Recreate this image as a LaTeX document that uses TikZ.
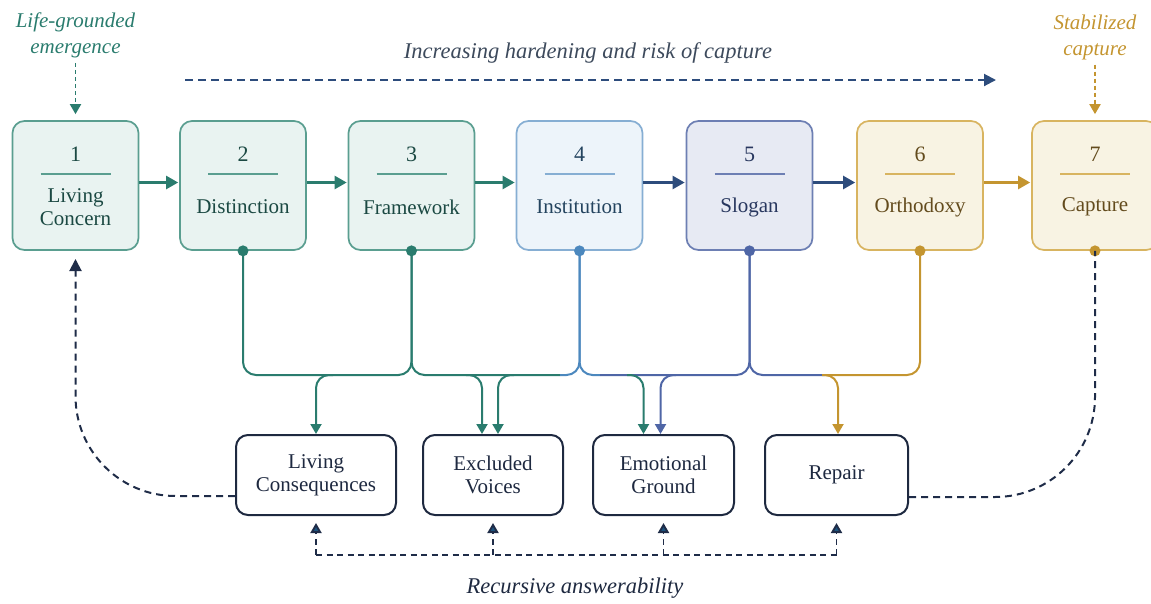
\documentclass[tikz,border=0pt]{standalone}
\usepackage{fontspec}
\setmainfont{Liberation Serif}
\usetikzlibrary{arrows.meta,positioning}

% --- colours ---
\definecolor{tealfill}{HTML}{E9F3F1}
\definecolor{tealedge}{HTML}{5A9E90}
\definecolor{tealtext}{HTML}{1B4943}
\definecolor{tealwire}{HTML}{2A7C6E}
\definecolor{skyfill}{HTML}{EDF4FA}
\definecolor{skyedge}{HTML}{86AED3}
\definecolor{skytext}{HTML}{24445F}
\definecolor{skywire}{HTML}{4C88BE}
\definecolor{slatefill}{HTML}{E7EAF3}
\definecolor{slateedge}{HTML}{6D7FB3}
\definecolor{slatetext}{HTML}{28375E}
\definecolor{slatewire}{HTML}{4F66A6}
\definecolor{goldfill}{HTML}{F8F3E3}
\definecolor{goldedge}{HTML}{D8B460}
\definecolor{goldtext}{HTML}{634B1D}
\definecolor{goldwire}{HTML}{C49530}
\definecolor{navyflow}{HTML}{2D4C7C}
\definecolor{inkbox}{HTML}{1E2940}
\definecolor{loopink}{HTML}{1F2C48}
\definecolor{tipblue}{HTML}{1C5480}
\definecolor{hardtext}{HTML}{3D4A5C}

\tikzset{
  stagebox/.style={draw, rounded corners=12pt, line width=1.7pt,
    minimum width=126pt, minimum height=129pt, inner sep=0pt},
  tealstage/.style={stagebox, draw=tealedge, fill=tealfill},
  skystage/.style={stagebox, draw=skyedge, fill=skyfill},
  slatestage/.style={stagebox, draw=slateedge, fill=slatefill},
  goldstage/.style={stagebox, draw=goldedge, fill=goldfill},
  numtxt/.style={font=\fontsize{22}{24}\selectfont, inner sep=0pt},
  labtxt/.style={font=\fontsize{21}{23}\selectfont, align=center, inner sep=0pt},
  steprule/.style={line width=1.5pt},
  outbox/.style={draw=inkbox, line width=2pt, rounded corners=12pt, fill=white,
    minimum height=80pt, inner sep=0pt, align=center, text=inkbox,
    font=\fontsize{21}{23}\selectfont},
  sidetxt/.style={font=\fontsize{21}{26}\selectfont\itshape, align=center, inner sep=1pt},
  midtxt/.style={font=\fontsize{22.5}{26}\selectfont\itshape, inner sep=0pt},
  flow/.style={line width=2.4pt, -{Triangle[length=12pt,width=13pt]}, shorten >=1pt},
  wire/.style={line width=2pt, rounded corners=13pt},
  drop/.style={wire, -{Triangle[length=10pt,width=11pt]}},
  loopdash/.style={draw=loopink, line width=2pt, dash pattern=on 7pt off 5pt,
    rounded corners=100pt},
  feeddash/.style={draw=loopink, line width=1.9pt, dash pattern=on 6pt off 4.5pt},
  uptip/.style={-{Triangle[length=10pt,width=11pt,fill=tipblue]}, shorten >=7pt},
  topdash/.style={line width=1.9pt, dash pattern=on 4pt off 3pt,
    -{Triangle[length=10pt,width=11pt]}, shorten >=6pt, shorten <=4pt},
}

\begin{document}
\begin{tikzpicture}[x=1pt,y=-1pt]
  \useasboundingbox (0,0) rectangle (1151,603);
  % --- Parameters ---
  \def\ybox{185.5}    % centre of the stage row
  \def\ynum{154}      % stage numbers
  \def\yrule{174}     % rule under the numbers
  \def\ylab{207}      % stage labels
  \def\ybus{375}      % level of the collecting lines
  \def\yout{475}      % centre of the lower row
  \def\yrec{555}      % recursive feedback line
  \def\xA{75.5}
  \def\xB{243}
  \def\xC{411.5}
  \def\xD{579.5}
  \def\xE{749.5}
  \def\xF{920}
  \def\xG{1095}

  % --- Stage row ---
  \node[tealstage] (s1) at (\xA,\ybox) {};
  \node[numtxt, text=tealtext] (n1) at (\xA,\ynum) {1};
  \draw[steprule, tealedge] ({\xA-35},\yrule) -- ({\xA+35},\yrule);
  \node[labtxt, text=tealtext] (l1) at (\xA,{\ylab}) {Living\\Concern};

  \node[tealstage] (s2) at (\xB,\ybox) {};
  \node[numtxt, text=tealtext] (n2) at (\xB,\ynum) {2};
  \draw[steprule, tealedge] ({\xB-35},\yrule) -- ({\xB+35},\yrule);
  \node[labtxt, text=tealtext] (l2) at (\xB,\ylab) {Distinction};

  \node[tealstage] (s3) at (\xC,\ybox) {};
  \node[numtxt, text=tealtext] (n3) at (\xC,\ynum) {3};
  \draw[steprule, tealedge] ({\xC-35},\yrule) -- ({\xC+35},\yrule);
  \node[labtxt, text=tealtext] (l3) at (\xC,\ylab) {Framework};

  \node[skystage] (s4) at (\xD,\ybox) {};
  \node[numtxt, text=skytext] (n4) at (\xD,\ynum) {4};
  \draw[steprule, skyedge] ({\xD-35},\yrule) -- ({\xD+35},\yrule);
  \node[labtxt, text=skytext] (l4) at (\xD,\ylab) {Institution};

  \node[slatestage] (s5) at (\xE,\ybox) {};
  \node[numtxt, text=slatetext] (n5) at (\xE,\ynum) {5};
  \draw[steprule, slateedge] ({\xE-35},\yrule) -- ({\xE+35},\yrule);
  \node[labtxt, text=slatetext] (l5) at (\xE,\ylab) {Slogan};

  \node[goldstage] (s6) at (\xF,\ybox) {};
  \node[numtxt, text=goldtext] (n6) at (\xF,\ynum) {6};
  \draw[steprule, goldedge] ({\xF-35},\yrule) -- ({\xF+35},\yrule);
  \node[labtxt, text=goldtext] (l6) at (\xF,\ylab) {Orthodoxy};

  \node[goldstage] (s7) at (\xG,\ybox) {};
  \node[numtxt, text=goldtext] (n7) at (\xG,\ynum) {7};
  \draw[steprule, goldedge] ({\xG-35},\yrule) -- ({\xG+35},\yrule);
  \node[labtxt, text=goldtext] (l7) at (\xG,\ylab) {Capture};

  % arrows along the row
  \draw[flow, tealwire] ([yshift=3pt]s1.east) -- ([yshift=3pt]s2.west);
  \draw[flow, tealwire] ([yshift=3pt]s2.east) -- ([yshift=3pt]s3.west);
  \draw[flow, tealwire] ([yshift=3pt]s3.east) -- ([yshift=3pt]s4.west);
  \draw[flow, navyflow] ([yshift=3pt]s4.east) -- ([yshift=3pt]s5.west);
  \draw[flow, navyflow] ([yshift=3pt]s5.east) -- ([yshift=3pt]s6.west);
  \draw[flow, goldwire] ([yshift=3pt]s6.east) -- ([yshift=3pt]s7.west);

  % --- Top labels ---
  \node[sidetxt, text=tealwire] (grow) at (\xA,35) {Life-grounded\\emergence};
  \draw[topdash, tealwire] (grow.south) -- (s1.north);
  \node[sidetxt, text=goldwire] (stab) at (\xG,37) {Stabilized\\capture};
  \draw[topdash, goldwire] (stab.south) -- (s7.north);
  \node[midtxt, text=hardtext] (hard) at (588,53) {Increasing hardening and risk of capture};
  \coordinate (hstart) at (185,80);
  \coordinate (hend) at (996,80);
  \draw[navyflow, line width=2pt, dash pattern=on 8pt off 5pt,
    -{Triangle[length=12pt,width=12pt]}] (hstart) -- (hend);

  % --- Lower row ---
  \node[outbox, minimum width=160pt] (lc) at (316,\yout) {Living\\Consequences};
  \node[outbox, minimum width=140pt] (ev) at (493,\yout) {Excluded\\Voices};
  \node[outbox, minimum width=141pt] (eg) at (663.5,\yout) {Emotional\\Ground};
  \node[outbox, minimum width=143pt] (rp) at (836.5,\yout) {Repair};

  % --- Collecting lines from the stages ---
  \coordinate (d2) at (s2.south);
  \coordinate (d3) at (s3.south);
  \coordinate (d4) at (s4.south);
  \coordinate (d5) at (s5.south);
  \coordinate (d6) at (s6.south);
  \coordinate (d7) at (s7.south);
  \coordinate (h3) at (\xC,\ybus);
  \coordinate (m34) at (560,\ybus);
  \coordinate (m45) at (600,\ybus);
  \coordinate (m56) at (825,\ybus);
  \draw[wire, tealwire] (d2) |- (h3) -- (d3);
  \draw[wire, tealwire] (d3) |- (m34);
  \draw[wire, skywire] (m34) -| (d4);
  \draw[wire, skywire] (d4) |- (m45);
  \draw[wire, slatewire] (m45) -| (d5);
  \draw[wire, slatewire] (d5) |- (m56);
  \draw[wire, goldwire] (m56) -| (d6);

  % branches down to the lower row
  \coordinate (b1) at (333,\ybus);
  \coordinate (b2) at (466,\ybus);
  \coordinate (b3) at (514,\ybus);
  \coordinate (b4) at (627,\ybus);
  \coordinate (b5) at (676,\ybus);
  \coordinate (b6) at (822,\ybus);
  \draw[drop, tealwire] (b1) -| (lc.north);
  \draw[drop, tealwire] (b2) -| ([xshift=-11pt]ev.north);
  \draw[drop, tealwire] (b3) -| ([xshift=5pt]ev.north);
  \draw[drop, tealwire] (b4) -| ([xshift=-20pt]eg.north);
  \draw[drop, slatewire] (b5) -| ([xshift=-3pt]eg.north);
  \draw[drop, goldwire] (b6) -| ([xshift=1.5pt]rp.north);

  % dots on the stages
  \fill[tealwire] (d2) circle (5.5pt);
  \fill[tealwire] (d3) circle (5.5pt);
  \fill[skywire] (d4) circle (5.5pt);
  \fill[slatewire] (d5) circle (5.5pt);
  \fill[goldwire] (d6) circle (5.5pt);
  \fill[goldwire] (d7) circle (5.5pt);

  % --- Return loops ---
  \coordinate (t1) at (\xA,259);
  \draw[loopdash, -{Triangle[length=12pt,width=12pt]}] ([yshift=-21pt]lc.west) -| (t1);
  \draw[loopdash] ([yshift=-22pt]rp.east) -| (d7);

  % --- Recursive answerability ---
  \coordinate (r1) at (lc.south |- 0,\yrec);
  \coordinate (r2) at (ev.south |- 0,\yrec);
  \coordinate (r3) at (eg.south |- 0,\yrec);
  \coordinate (r4) at (rp.south |- 0,\yrec);
  \draw[feeddash] (r1) -- (r4);
  \draw[feeddash, uptip] (r1) -- (lc.south);
  \draw[feeddash, uptip] (r2) -- (ev.south);
  \draw[feeddash, uptip] (r3) -- (eg.south);
  \draw[feeddash, uptip] (r4) -- (rp.south);
  \node[midtxt, text=inkbox] (rec) at (575,588) {Recursive answerability};
\end{tikzpicture}
\end{document}
